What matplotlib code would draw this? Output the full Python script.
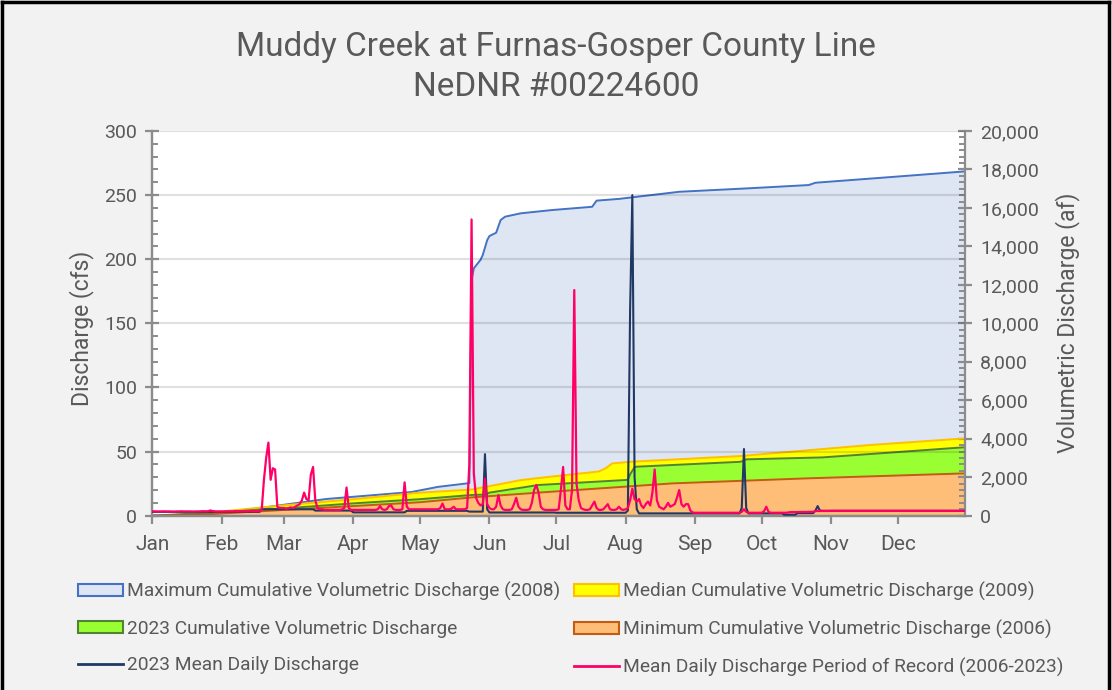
import matplotlib
matplotlib.use("Agg")
import matplotlib.pyplot as plt
from matplotlib.patches import Patch
from matplotlib.lines import Line2D
from matplotlib.ticker import MultipleLocator, FixedLocator, FuncFormatter

plt.rcParams['font.family'] = ['Roboto', 'DejaVu Sans']

# ---------------- data ----------------
month_ticks = [0, 31, 59, 90, 120, 151, 181, 212, 243, 273, 304, 334]
month_labels = ['Jan', 'Feb', 'Mar', 'Apr', 'May', 'Jun', 'Jul', 'Aug', 'Sep', 'Oct', 'Nov', 'Dec']

# Cumulative volumetric discharge (af), (day-of-year index, value)
max_days = [0, 20, 45, 78, 116, 128, 141, 142, 143, 144, 147, 148, 150, 151, 154, 156, 158, 165,
            179, 197, 199, 209, 236, 267, 294, 297, 329, 364]
max_af = [0, 60, 350, 870, 1230, 1500, 1680, 1700, 12250, 12860, 13300, 13550, 14330, 14540, 14710,
          15370, 15545, 15720, 15890, 16060, 16380, 16470, 16840, 17020, 17190, 17310, 17590, 17900]

median_days = [0, 15, 31, 59, 90, 120, 143, 165, 173, 200, 203, 206, 215, 263, 322, 364]
median_af = [0, 60, 220, 540, 860, 1200, 1360, 1850, 1960, 2300, 2460, 2720, 2810, 3100, 3680, 4020]

cum2023_days = [0, 31, 59, 90, 120, 143, 149, 151, 173, 212, 213, 214, 216, 217, 263, 264, 266,
                300, 322, 364]
cum2023_af = [0, 190, 380, 640, 860, 1076, 1100, 1200, 1596, 1856, 1870, 2150, 2520, 2548, 2800,
              2820, 2930, 3030, 3210, 3560]

min_days = [0, 20, 59, 90, 120, 143, 173, 233, 293, 364]
min_af = [0, 40, 300, 500, 700, 950, 1200, 1680, 1940, 2200]

# Mean daily discharge, period of record 2006-2023 (cfs), by month
por_jan = [3.4, 3.4, 3.3, 3.3, 3.3, 3.4, 3.3, 3.3, 3.3, 3.2, 3.2, 3.3, 3.3, 3.4, 3.3, 3.3, 3.3, 3.3,
           3.2, 3.2, 3.3, 3.3, 3.4, 3.5, 3.4, 3.5, 4.1, 3.6, 3.4, 3.3, 3.3]
por_feb = [3.3, 3.3, 3.4, 3.4, 3.3, 3.3, 3.5, 3.4, 3.4, 3.3, 3.3, 3.4, 3.5, 3.6, 3.5, 3.4, 3.5, 3.6,
           4.5, 28, 45, 57, 28, 37, 36, 7, 6, 6]
por_mar = [6, 5.5, 6, 6.5, 6, 7, 8, 9, 12, 18, 13, 12, 32, 38, 12, 6, 5, 5, 4.5, 4.5, 4.5, 4.5, 4.5,
           4.5, 4.5, 4.5, 5, 6, 22, 6, 4.5]
por_apr = [4.5, 4.5, 4.5, 4.5, 4.5, 4.5, 4.5, 4.5, 4.5, 4.5, 4.5, 5, 7.5, 5, 4.5, 5, 7.5, 8, 5, 4.5,
           4.5, 4.5, 5, 26, 7, 5, 5, 5, 5, 5]
por_may = [5, 5, 5, 5, 5, 5, 5, 5, 5, 6, 9.5, 5, 5, 5, 5.5, 7, 5, 5, 5, 5, 5, 6, 40, 231, 33, 14, 10,
           8, 9, 29, 9]
por_jun = [6, 5, 5, 7, 16, 8, 5, 4.5, 4.5, 4.5, 5, 9, 14, 7, 5, 4.5, 4.5, 4.5, 5, 10, 20, 24, 18, 7,
           5, 4.5, 4.5, 4.5, 4.5, 4.5]
por_jul = [4.5, 5, 20, 38, 8, 5, 5, 20, 176, 25, 12, 6, 5, 4.5, 4.5, 5, 8, 11, 6, 4.5, 4.5, 5, 7, 9,
           5, 4.5, 4.5, 5, 7, 5, 4.5]
por_aug = [5, 6, 12, 21, 13, 11, 13, 8, 6, 9, 11, 8, 18, 36, 12, 7, 6, 5, 7, 10, 7, 8, 9, 14, 20, 9,
           7, 9, 9, 4, 2.5]
por_sep = [2.3, 2.3, 2.3, 2.3, 2.3, 2.3, 2.3, 2.3, 2.3, 2.3, 2.3, 2.3, 2.3, 2.3, 2.3, 2.3, 2.3, 2.3,
           2.3, 2.3, 2.3, 3, 5, 3, 2.3, 2.3, 2.3, 2.3, 2.3, 2.3]
por_oct = [2.3, 3.5, 7, 3, 2.3, 2.3, 2.3, 2.3, 2.3, 2.3, 2.3, 2.3, 2.6, 2.8, 2.8, 2.8, 2.8, 2.9, 2.9,
           2.9, 2.9, 3.0, 3.0, 3.0, 3.6, 3.7, 3.7, 3.7, 3.7, 3.7, 3.7]
por_nov = [3.8, 3.8, 3.8, 3.8, 3.8, 3.8, 3.8, 3.8, 3.8, 3.8, 3.8, 3.8, 3.8, 3.8, 3.8, 3.8, 3.8, 3.8,
           3.8, 3.8, 3.8, 3.8, 3.8, 3.8, 3.8, 3.8, 3.8, 3.8, 3.8, 3.8]
por_dec = [3.8, 3.8, 3.8, 3.8, 3.8, 3.8, 3.8, 3.8, 3.8, 3.8, 3.8, 3.8, 3.8, 3.8, 3.8, 3.8, 3.8, 3.8,
           3.8, 3.8, 3.8, 3.8, 3.8, 3.8, 3.8, 3.8, 3.8, 3.8, 3.8, 3.8, 3.8]

# 2023 mean daily discharge (cfs), by month
d23_jan = [3.0, 3.0, 3.0, 3.0, 3.0, 3.0, 3.0, 3.0, 3.0, 3.0, 3.0, 3.0, 3.0, 3.0, 3.0, 3.0, 3.0, 3.0,
           3.0, 3.0, 3.0, 3.0, 3.0, 3.0, 3.0, 3.0, 3.0, 3.0, 3.0, 3.0, 3.0]
d23_feb = [3.0, 3.0, 3.0, 3.0, 3.0, 3.0, 3.0, 3.0, 3.0, 3.0, 3.0, 3.0, 3.0, 3.0, 3.0, 3.0, 3.0, 3.0,
           5.0, 5.0, 5.0, 5.0, 5.0, 5.0, 5.0, 5.0, 5.0, 5.0]
d23_mar = [5.0, 5.0, 5.0, 5.0, 5.0, 5.0, 5.0, 5.0, 5.0, 5.0, 5.0, 5.0, 5.0, 5.0, 4.0, 4.0, 4.0, 4.0,
           4.0, 4.0, 4.0, 4.0, 4.0, 4.0, 4.0, 4.0, 4.0, 4.0, 4.0, 4.0, 4.0]
d23_apr = [2.6, 2.6, 2.6, 2.6, 2.6, 2.6, 2.6, 2.6, 2.6, 2.6, 2.6, 2.6, 2.6, 2.6, 2.6, 2.6, 2.6, 2.6,
           2.6, 2.6, 2.6, 2.6, 2.6, 2.6, 3.8, 3.8, 3.8, 3.8, 3.8, 3.8]
d23_may = [3.8, 3.8, 3.8, 3.8, 3.8, 3.8, 3.8, 3.8, 3.8, 3.8, 3.8, 3.8, 3.8, 3.8, 3.8, 3.8, 3.8, 3.8,
           3.8, 3.8, 3.8, 3.8, 3.2, 3.2, 3.2, 3.2, 3.2, 3.2, 3.2, 48, 5]
d23_jun = [2.5, 2.5, 2.5, 2.5, 2.5, 2.5, 2.5, 2.5, 2.5, 2.5, 2.5, 2.5, 2.5, 2.5, 2.5, 2.5, 2.5, 2.5,
           2.5, 2.5, 2.5, 2.5, 2.5, 2.5, 2.5, 2.5, 2.5, 2.5, 2.5, 2.5]
d23_jul = [2.3, 2.3, 2.3, 2.3, 2.3, 2.3, 2.3, 2.3, 2.3, 2.3, 2.3, 2.3, 2.3, 2.3, 2.3, 2.3, 2.3, 2.3,
           2.3, 2.3, 2.3, 2.3, 2.3, 2.3, 2.3, 2.3, 2.3, 2.3, 2.3, 2.3, 2.3]
d23_aug = [2.3, 4, 160, 250, 30, 5, 1.8, 1.8, 1.8, 1.8, 1.8, 1.8, 1.8, 1.8, 1.8, 1.8, 1.8, 1.8, 1.8,
           1.8, 1.8, 1.8, 1.8, 1.8, 1.8, 1.8, 1.8, 1.8, 1.8, 1.8, 1.8]
d23_sep = [1.8, 1.8, 1.8, 1.8, 1.8, 1.8, 1.8, 1.8, 1.8, 1.8, 1.8, 1.8, 1.8, 1.8, 1.8, 1.8, 1.8, 1.8,
           1.8, 1.8, 1.8, 6, 52, 6, 1.8, 1.8, 1.8, 1.8, 1.8, 1.8]
d23_oct = [1.8, 1.8, 1.8, 1.8, 1.8, 1.8, 1.8, 1.8, 1.8, 1.8, 0.8, 0.8, 0.8, 0.8, 0.8, 0.8, 2.0, 2.0,
           2.0, 2.0, 2.0, 2.0, 2.0, 2.0, 4, 7.5, 4, 3.8, 3.8, 3.8, 3.8]
d23_nov = [3.8, 3.8, 3.8, 3.8, 3.8, 3.8, 3.8, 3.8, 3.8, 3.8, 3.8, 3.8, 3.8, 3.8, 3.8, 3.8, 3.8, 3.8,
           3.8, 3.8, 3.8, 3.8, 3.8, 3.8, 3.8, 3.8, 3.8, 3.8, 3.8, 3.8]
d23_dec = [3.8, 3.8, 3.8, 3.8, 3.8, 3.8, 3.8, 3.8, 3.8, 3.8, 3.8, 3.8, 3.8, 3.8, 3.8, 3.8, 3.8, 3.8,
           3.8, 3.8, 3.8, 3.8, 3.8, 3.8, 3.8, 3.8, 3.8, 3.8, 3.8, 3.8, 3.8]

labels = ['Maximum Cumulative Volumetric Discharge (2008)',
          'Median Cumulative Volumetric Discharge (2009)',
          '2023 Cumulative Volumetric Discharge',
          'Minimum Cumulative Volumetric Discharge (2006)',
          '2023 Mean Daily Discharge',
          'Mean Daily Discharge Period of Record (2006-2023)']

por = (por_jan + por_feb + por_mar + por_apr + por_may + por_jun + por_jul + por_aug + por_sep
       + por_oct + por_nov + por_dec)
d23 = (d23_jan + d23_feb + d23_mar + d23_apr + d23_may + d23_jun + d23_jul + d23_aug + d23_sep
       + d23_oct + d23_nov + d23_dec)
days = list(range(len(por)))

# ---------------- styling ----------------
TXT = '#595959'
AX = '#8c8c8c'
C_MAX_F, C_MAX_E = '#dfe6f3', '#4472c4'
C_MED_F, C_MED_E = '#ffff00', '#ffc000'
C_23_F, C_23_E = '#99ff33', '#548235'
C_MIN_F, C_MIN_E = '#ffbe78', '#c55a11'
C_D23 = '#1f3864'
C_POR = '#ff0066'

fig = plt.figure(figsize=(11.12, 6.90), dpi=100, facecolor='#f2f2f2')
L, R, B, T = 152.3, 965, 515.7, 131
ax = fig.add_axes([L / 1112, 1 - B / 690, (R - L) / 1112, (B - T) / 690])
ax2 = ax.twinx()

# cumulative areas (right axis) drawn beneath the daily lines
ax2.set_zorder(1)
ax.set_zorder(2)
ax.patch.set_visible(False)
ax2.patch.set_visible(True)
ax2.set_facecolor('white')

for dx, vy, fc, ec in [(max_days, max_af, C_MAX_F, C_MAX_E),
                       (median_days, median_af, C_MED_F, C_MED_E),
                       (cum2023_days, cum2023_af, C_23_F, C_23_E),
                       (min_days, min_af, C_MIN_F, C_MIN_E)]:
    ax2.fill_between(dx, 0, vy, facecolor=fc, edgecolor='none', zorder=1)
    ax2.plot(dx, vy, color=ec, lw=1.4, zorder=2)

# daily lines (left axis)
ax.plot(days, d23, color=C_D23, lw=1.5, zorder=3)
ax.plot(days, por, color=C_POR, lw=1.6, zorder=4)

ax.set_xlim(0, 364)
ax.set_ylim(0, 300)
ax2.set_ylim(0, 20000)

# grid
ax.set_axisbelow(True)
ax.yaxis.grid(True, color='black', alpha=0.12, lw=1.6)
ax.xaxis.grid(False)

# spines
for a in (ax, ax2):
    a.spines['top'].set_visible(False)
    for s in ('left', 'right', 'bottom'):
        a.spines[s].set_color(AX)
        a.spines[s].set_linewidth(1.6)
ax.spines['right'].set_visible(False)

# left ticks
ax.yaxis.set_major_locator(MultipleLocator(50))
ax.yaxis.set_minor_locator(MultipleLocator(10))
ax.tick_params(axis='y', which='major', direction='inout', length=10, width=1.6, color=AX,
               labelsize=14, labelcolor=TXT, pad=6)
ax.tick_params(axis='y', which='minor', direction='in', length=4, width=1.4, color=AX)

# right ticks
ax2.yaxis.set_major_locator(MultipleLocator(2000))
ax2.yaxis.set_minor_locator(MultipleLocator(2000 / 6))
ax2.yaxis.set_major_formatter(FuncFormatter(lambda v, p: f'{int(v):,}'))
ax2.tick_params(axis='y', which='major', direction='inout', length=10, width=1.6, color=AX,
                labelsize=14, labelcolor=TXT, pad=6)
ax2.tick_params(axis='y', which='minor', direction='in', length=4, width=1.4, color=AX)

# x ticks
ax.xaxis.set_major_locator(FixedLocator(month_ticks))
ax.set_xticklabels(month_labels)
ax.tick_params(axis='x', which='major', direction='out', length=6, width=1.6, color=AX,
               labelsize=15, labelcolor=TXT, pad=8)
ax2.tick_params(axis='x', which='both', bottom=False, labelbottom=False)

# axis titles
fig.text(82 / 1112, 1 - 328 / 690, 'Discharge (cfs)', rotation=90, ha='center', va='center',
         fontsize=16.5, color=TXT)
fig.text(1068 / 1112, 1 - 323 / 690, 'Volumetric Discharge (af)', rotation=90, ha='center',
         va='center', fontsize=16.5, color=TXT)

# title
fig.text(0.5, 1 - 47 / 690, 'Muddy Creek at Furnas-Gosper County Line', ha='center', va='center',
         fontsize=24, color=TXT)
fig.text(0.5, 1 - 87 / 690, 'NeDNR #00224600', ha='center', va='center', fontsize=24, color=TXT)

# legend
handles = [
    Patch(facecolor=C_MAX_F, edgecolor=C_MAX_E, lw=1.5),
    Patch(facecolor=C_23_F, edgecolor=C_23_E, lw=1.5),
    Line2D([], [], color=C_D23, lw=2),
    Patch(facecolor=C_MED_F, edgecolor=C_MED_E, lw=1.5),
    Patch(facecolor=C_MIN_F, edgecolor=C_MIN_E, lw=1.5),
    Line2D([], [], color=C_POR, lw=2),
]
leg_labels = [labels[0], labels[2], labels[4], labels[1], labels[3], labels[5]]
leg = fig.legend(handles, leg_labels, ncol=2, loc='upper left',
                 bbox_to_anchor=(70 / 1112, 1 - 574 / 690), frameon=False,
                 fontsize=13.8, handlelength=2.35, handleheight=0.6, handletextpad=0.2,
                 columnspacing=0.75, labelspacing=0.98, borderaxespad=0)
for t in leg.get_texts():
    t.set_color(TXT)

# outer frame (black border on left, top, right)
fig.add_artist(Line2D([2 / 1112, 2 / 1112], [0, 1 - 2 / 690], transform=fig.transFigure,
                      color='black', lw=2.5))
fig.add_artist(Line2D([2 / 1112, 1109 / 1112], [1 - 2 / 690, 1 - 2 / 690],
                      transform=fig.transFigure, color='black', lw=2.5))
fig.add_artist(Line2D([1109 / 1112, 1109 / 1112], [0, 1 - 2 / 690], transform=fig.transFigure,
                      color='black', lw=2.5))

fig.savefig('out.png', dpi=100, facecolor=fig.get_facecolor())
